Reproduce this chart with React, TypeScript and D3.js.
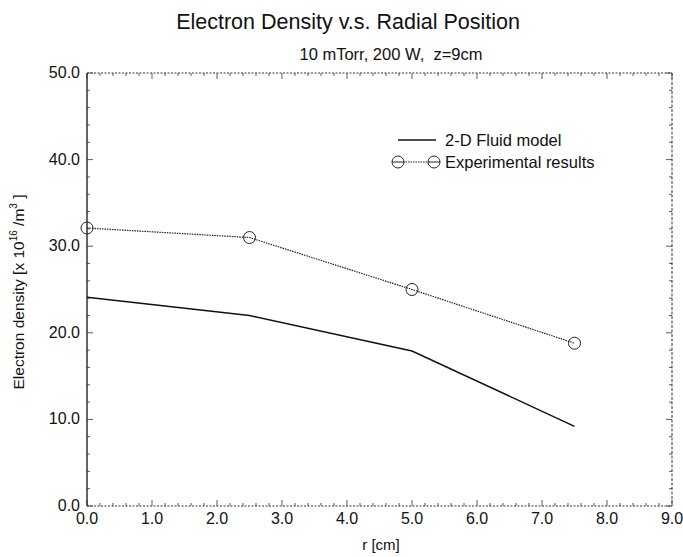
import React from "react";
import * as d3 from "d3";

const rValues = [0, 2.5, 5.0, 7.5];
const fluidModel = [24.1, 22.0, 17.9, 9.2];
const experimental = [32.1, 31.0, 25.0, 18.8];
const xTicks = [0, 1, 2, 3, 4, 5, 6, 7, 8, 9];
const yTicks = [0, 10, 20, 30, 40, 50];

const W = 683, H = 557;
const L = 87, R = 672, T = 73, B = 506;
const font = "Liberation Sans, Arial, Helvetica, sans-serif";

export default function App() {
  const x = d3.scaleLinear().domain([0, 9]).range([L, R]);
  const y = d3.scaleLinear().domain([0, 50]).range([B, T]);
  const line = d3.line<number>().x((_, i) => x(rValues[i])).y((d) => y(d));
  const xMinor = d3.range(0, 9.0001, 0.2);
  const yMinor = d3.range(0, 50.0001, 2);

  return (
    <svg width={W} height={H} style={{ position: "absolute", left: 0, top: 0, background: "#fff" }}>
      <rect x={0} y={0} width={W} height={H} fill="#fff" />
      <text x={348} y={29} textAnchor="middle" fontFamily={font} fontSize={21.5} fill="#111">
        Electron Density v.s. Radial Position
      </text>
      <text x={391} y={60} textAnchor="middle" fontFamily={font} fontSize={16.5} fill="#111">
        10 mTorr, 200 W,{"\u00a0\u00a0"}z=9cm
      </text>

      {/* frame */}
      <line x1={L} y1={T} x2={L} y2={B} stroke="#111" strokeWidth={1.3} />
      <line x1={L} y1={B} x2={R} y2={B} stroke="#333" strokeWidth={1} strokeDasharray="2,1.5" />
      <line x1={L} y1={T} x2={R} y2={T} stroke="#333" strokeWidth={1} strokeDasharray="2,1.5" />
      <line x1={R} y1={T} x2={R} y2={B} stroke="#333" strokeWidth={1} strokeDasharray="3,1.5" />

      {/* ticks */}
      {xMinor.map((v, i) => {
        const major = Math.abs(v - Math.round(v)) < 1e-6;
        const len = major ? 6 : 3;
        return (
          <g key={"xt" + i}>
            <line x1={x(v)} x2={x(v)} y1={B} y2={B - len} stroke="#333" strokeWidth={0.8} />
            <line x1={x(v)} x2={x(v)} y1={T} y2={T + len} stroke="#333" strokeWidth={0.8} />
          </g>
        );
      })}
      {yMinor.map((v, i) => {
        const major = v % 10 === 0;
        const len = major ? 6 : 3;
        return (
          <g key={"yt" + i}>
            <line x1={L} x2={L + len} y1={y(v)} y2={y(v)} stroke="#333" strokeWidth={0.8} />
            <line x1={R} x2={R - len} y1={y(v)} y2={y(v)} stroke="#333" strokeWidth={0.8} />
          </g>
        );
      })}

      {xTicks.map((v) => (
        <text key={"xl" + v} x={x(v)} y={B + 18} textAnchor="middle" fontFamily={font} fontSize={16} fill="#111">
          {v.toFixed(1)}
        </text>
      ))}
      {yTicks.map((v) => (
        <text key={"yl" + v} x={L - 7} y={y(v) + 5} textAnchor="end" fontFamily={font} fontSize={16} fill="#111">
          {v.toFixed(1)}
        </text>
      ))}

      <text x={381} y={550} textAnchor="middle" fontFamily={font} fontSize={15} fill="#111">
        r [cm]
      </text>
      <text transform="translate(24,292) rotate(-90)" textAnchor="middle" fontFamily={font} fontSize={15.5} fill="#111">
        Electron density [x 10
        <tspan dy={-7} fontSize={10}>16</tspan>
        <tspan dy={7}> /m</tspan>
        <tspan dy={-7} fontSize={10}>3</tspan>
        <tspan dy={7}> ]</tspan>
      </text>

      {/* series */}
      <path d={line(fluidModel) || ""} fill="none" stroke="#111" strokeWidth={1.5} />
      <path d={line(experimental) || ""} fill="none" stroke="#222" strokeWidth={1.2} strokeDasharray="1.5,1" />
      {experimental.map((v, i) => (
        <circle key={"c" + i} cx={x(rValues[i])} cy={y(v)} r={6} fill="none" stroke="#222" strokeWidth={1} />
      ))}

      {/* legend */}
      <line x1={398} x2={436} y1={140} y2={140} stroke="#111" strokeWidth={1.5} />
      <text x={445} y={146} fontFamily={font} fontSize={16.5} fill="#111">2-D Fluid model</text>
      <line x1={398} x2={434} y1={162} y2={162} stroke="#222" strokeWidth={1.2} strokeDasharray="1.5,1" />
      <circle cx={398} cy={162} r={6} fill="#fff" stroke="#222" strokeWidth={1} />
      <circle cx={434} cy={162} r={6} fill="#fff" stroke="#222" strokeWidth={1} />
      <line x1={392} x2={404} y1={162} y2={162} stroke="#222" strokeWidth={1} />
      <line x1={428} x2={440} y1={162} y2={162} stroke="#222" strokeWidth={1} />
      <text x={445} y={168} fontFamily={font} fontSize={16.5} fill="#111">Experimental results</text>
    </svg>
  );
}
